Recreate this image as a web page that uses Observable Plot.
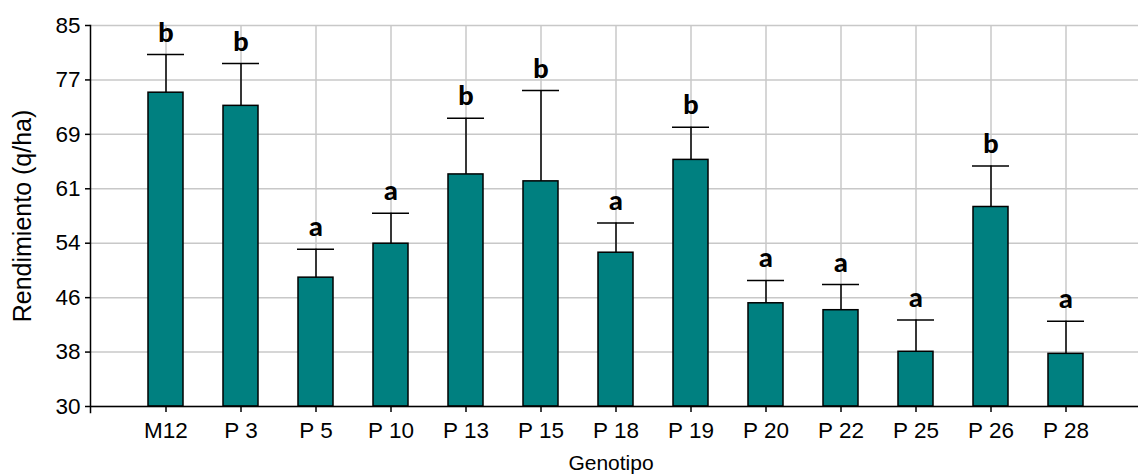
<!DOCTYPE html>
<html>
<head>
<meta charset="utf-8">
<script src="https://cdn.jsdelivr.net/npm/d3@7"></script>
<script src="https://cdn.jsdelivr.net/npm/@observablehq/plot@0.6"></script>
<style>
  html, body { margin: 0; padding: 0; background: #ffffff; }
  #chart { width: 1138px; height: 475px; }
</style>
</head>
<body>
<div id="chart"></div>
<script>
// Categories (genotypes)
const genotypes = ["M12", "P 3", "P 5", "P 10", "P 13", "P 15", "P 18", "P 19", "P 20", "P 22", "P 25", "P 26", "P 28"];
// Mean yield (q/ha)
const means = [75.3, 73.4, 48.6, 53.5, 63.5, 62.5, 52.2, 65.6, 44.9, 43.9, 37.9, 58.8, 37.6];
// Top of error bars (mean + error)
const upper = [80.8, 79.5, 52.7, 57.9, 71.6, 75.6, 56.5, 70.3, 48.2, 47.6, 42.5, 64.7, 42.3];
// Significance letters
const letters = ["b", "b", "a", "a", "b", "b", "a", "b", "a", "a", "a", "b", "a"];
// Y tick labels (equally spaced from 30 to 85)
const yTickLabels = ["30", "38", "46", "54", "61", "69", "77", "85"];
const yMin = 30, yMax = 85;
const yLabel = "Rendimiento (q/ha)";
const xLabel = "Genotipo";

const yTicks = yTickLabels.map((_, i) => yMin + i * (yMax - yMin) / (yTickLabels.length - 1));
const data = genotypes.map((g, i) => ({g, v: means[i], hi: upper[i], l: letters[i]}));

const grid = "#c8c8c8";
const sans = "'Liberation Sans', Arial, sans-serif";

const chart = Plot.plot({
  width: 1138,
  height: 475,
  marginLeft: 90,
  marginRight: -3,
  marginTop: 25,
  marginBottom: 69,
  style: {fontFamily: sans, background: "#ffffff", color: "#000000"},
  x: {type: "band", domain: genotypes, paddingInner: 0.533, paddingOuter: 0.77},
  y: {domain: [yMin, yMax]},
  marks: [
    Plot.gridY(yTicks, {stroke: grid, strokeOpacity: 1, strokeWidth: 1.5}),
    Plot.gridX({stroke: grid, strokeOpacity: 1, strokeWidth: 1.5}),
    Plot.axisY(yTicks, {
      tickSize: 5, tickPadding: 5, fontSize: 22.5, fontFamily: sans,
      tickFormat: (d, i) => yTickLabels[i], label: null, stroke: "#000", strokeWidth: 1.5
    }),
    Plot.axisX({
      tickSize: 6, tickPadding: 10, fontSize: 22.5, fontFamily: sans,
      label: null, stroke: "#000", strokeWidth: 1.5
    }),
    Plot.barY(data, {x: "g", y1: yMin, y2: "v", fill: "#008080", stroke: "#000", strokeWidth: 1.5}),
    Plot.ruleX(data, {x: "g", y1: "v", y2: "hi", stroke: "#000", strokeWidth: 1.5}),
    Plot.tickY(data, {x: "g", y: "hi", stroke: "#000", strokeWidth: 1.5, insetLeft: -1, insetRight: -1}),
    Plot.text(data, {
      x: "g", y: "hi", text: "l", lineAnchor: "bottom", dy: -13,
      fontFamily: "Lato", fontWeight: 900, fontSize: 27, fill: "#000"
    }),
    Plot.ruleY([yMin], {stroke: "#000", strokeWidth: 1.5}),
    Plot.frame({anchor: "left", stroke: "#000", strokeWidth: 1.5, insetBottom: -6}),
    Plot.text([yLabel], {
      frameAnchor: "left", text: d => d, rotate: -90, dx: -60, lineAnchor: "bottom",
      textAnchor: "middle", fontSize: 25, fontFamily: sans, fill: "#000"
    }),
    Plot.text([xLabel], {
      frameAnchor: "bottom", text: d => d, dy: 63, dx: -5, lineAnchor: "bottom",
      textAnchor: "middle", fontSize: 21, fontFamily: sans, fill: "#000"
    })
  ]
});
document.getElementById("chart").appendChild(chart);
</script>
</body>
</html>
